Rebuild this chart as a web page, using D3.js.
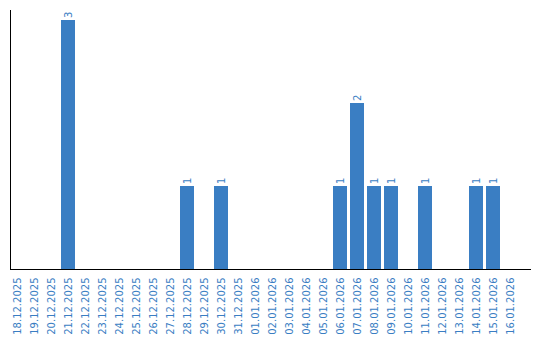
<!DOCTYPE html>
<html><head><meta charset="utf-8">
<script src="https://cdn.jsdelivr.net/npm/d3@7"></script>
<style>body{margin:0;background:#fff}svg{display:block}</style>
</head><body>
<svg id="c" width="540" height="340"></svg>
<script>
const dates = ["18.12.2025","19.12.2025","20.12.2025","21.12.2025","22.12.2025","23.12.2025","24.12.2025","25.12.2025","26.12.2025","27.12.2025","28.12.2025","29.12.2025","30.12.2025","31.12.2025","01.01.2026","02.01.2026","03.01.2026","04.01.2026","05.01.2026","06.01.2026","07.01.2026","08.01.2026","09.01.2026","10.01.2026","11.01.2026","12.01.2026","13.01.2026","14.01.2026","15.01.2026","16.01.2026"];
const counts = [0,0,0,3,0,0,0,0,0,0,1,0,1,0,0,0,0,0,0,1,2,1,1,0,1,0,0,1,1,0];

const blue = "#3a7ec3";
const svg = d3.select("#c");
const x = d3.scaleBand().domain(dates).range([8.5, 518.5]).paddingInner(3/17).paddingOuter(3/34);
const y = d3.scaleLinear().domain([0, 3]).range([269, 20]);

const data = dates.map((d, i) => ({d, v: counts[i]}));

svg.append("g").selectAll("rect").data(data.filter(e => e.v > 0)).join("rect")
  .attr("x", e => x(e.d)).attr("width", x.bandwidth())
  .attr("y", e => y(e.v)).attr("height", e => y(0) - y(e.v))
  .attr("fill", blue);

svg.append("g").selectAll("text").data(data.filter(e => e.v > 0)).join("text")
  .attr("transform", e => `translate(${x(e.d) + x.bandwidth()/2},${y(e.v) - 2}) rotate(-90)`)
  .attr("dy", "0.35em").attr("text-anchor", "start")
  .attr("font-family", "DejaVu Sans").attr("font-size", 10).attr("fill", blue)
  .text(e => e.v);

// axes
const xAxis = d3.axisBottom(x).tickSize(0).tickPadding(0);
const gx = svg.append("g").attr("transform", "translate(0,269.5)").call(xAxis);
gx.select(".domain").remove();
gx.selectAll("text")
  .attr("font-family", "DejaVu Sans").attr("font-size", 10).attr("fill", blue)
  .attr("text-anchor", "end").attr("dy", "0.35em").attr("y", 0)
  .attr("transform", "translate(0,8) rotate(-90)");

svg.append("line").attr("x1", 10).attr("x2", 531).attr("y1", 269.5).attr("y2", 269.5).attr("stroke", "#000");
svg.append("line").attr("x1", 10.5).attr("x2", 10.5).attr("y1", 10).attr("y2", 270).attr("stroke", "#000");
</script>
</body></html>
